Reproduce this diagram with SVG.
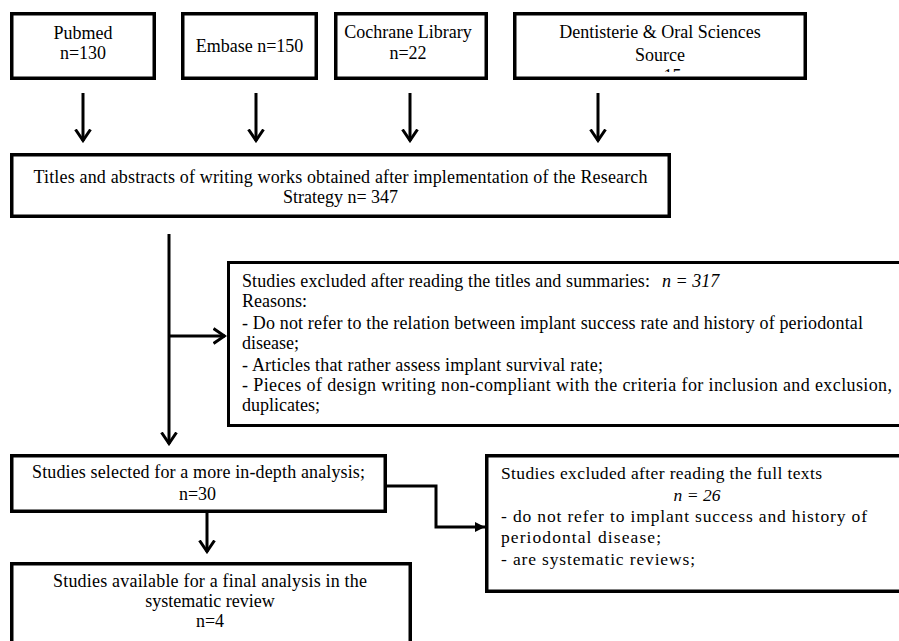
<svg xmlns="http://www.w3.org/2000/svg" width="899" height="641" viewBox="0 0 899 641">
<style>
.box{fill:#fff;stroke:#000;stroke-width:3.5}
.thin{stroke-width:3}
text{font-family:'Liberation Serif','DejaVu Serif',serif;fill:#000}
.t{font-size:18px}
.c{text-anchor:middle}
.i{font-style:italic}
.b2{font-size:17.5px}
.ln{fill:none;stroke:#000;stroke-width:3}
</style>
<defs>
<marker id="open" viewBox="0 0 14 18" markerWidth="14" markerHeight="18" refX="12.5" refY="9" markerUnits="userSpaceOnUse" orient="auto">
<path d="M1,1.5 L12,9 L1,16.5" fill="none" stroke="#000" stroke-width="3"/>
</marker>
<marker id="solid" viewBox="0 0 10 10" markerWidth="11" markerHeight="10" refX="10" refY="5" markerUnits="userSpaceOnUse" orient="auto">
<path d="M0,0 L10,5 L0,10 z" fill="#000"/>
</marker>
<clipPath id="clipD"><rect x="516" y="15" width="288" height="57"/></clipPath>
</defs>

<g font-family="Liberation Serif, serif">
<g id="pubmed">
<rect class="box" x="11.75" y="13.75" width="142.5" height="64.5"/>
<text class="t c" x="83" y="39">Pubmed</text>
<text class="t c" x="83" y="59">n=130</text>
</g>
<g id="embase">
<rect class="box" x="182.75" y="13.75" width="133.5" height="64.5"/>
<text class="t c" x="249.5" y="52">Embase n=150</text>
</g>
<g id="cochrane">
<rect class="box" x="335.75" y="13.75" width="150.5" height="64.5"/>
<text class="t c" x="408" y="38">Cochrane Library</text>
<text class="t c" x="408" y="59">n=22</text>
</g>
<g id="dentisterie">
<rect class="box" x="514.75" y="13.75" width="290.5" height="64.5"/>
<g clip-path="url(#clipD)">
<text class="t c" x="660" y="38">Dentisterie &amp; Oral Sciences</text>
<text class="t c" x="660" y="61">Source</text>
<text class="t c" x="663" y="82">n=15</text>
</g>
</g>
<g id="titles">
<rect class="box" x="11.75" y="154.75" width="657.5" height="61.5"/>
<text class="t c" x="340.5" y="183" textLength="614" lengthAdjust="spacing">Titles and abstracts of writing works obtained after implementation of the Research</text>
<text class="t c" x="340.5" y="203">Strategy n= 347</text>
</g>
<g id="excluded1">
<rect class="box thin" x="228.5" y="262.5" width="700" height="163"/>
<text class="t" x="242" y="287" textLength="408" lengthAdjust="spacing">Studies excluded after reading the titles and summaries:</text>
<text class="t i" x="662" y="287">n = 317</text>
<text class="t" x="242" y="307">Reasons:</text>
<text class="t" x="242" y="329" textLength="621" lengthAdjust="spacing">- Do not refer to the relation between implant success rate and history of periodontal</text>
<text class="t" x="242" y="349">disease;</text>
<text class="t" x="242" y="371" textLength="361" lengthAdjust="spacing">- Articles that rather assess implant survival rate;</text>
<text class="t" x="242" y="391" textLength="650" lengthAdjust="spacing">- Pieces of design writing non-compliant with the criteria for inclusion and exclusion,</text>
<text class="t" x="242" y="411">duplicates;</text>
</g>
<g id="selected">
<rect class="box" x="11.75" y="455.75" width="373.5" height="55.5"/>
<text class="t c" x="198.5" y="478" textLength="333" lengthAdjust="spacing">Studies selected for a more in-depth analysis;</text>
<text class="t c" x="197.5" y="500">n=30</text>
</g>
<g id="final">
<rect class="box" x="11.75" y="563.75" width="398.5" height="100"/>
<text class="t c" x="210" y="587" textLength="314" lengthAdjust="spacing">Studies available for a final analysis in the</text>
<text class="t c" x="210" y="607">systematic review</text>
<text class="t c" x="210" y="627">n=4</text>
</g>
<g id="excluded2">
<rect class="box" x="486.75" y="455.75" width="450" height="135.5"/>
<text class="b2" x="501" y="479" textLength="321" lengthAdjust="spacing">Studies excluded after reading the full texts</text>
<text class="b2 i c" x="697" y="501">n = 26</text>
<text class="b2" x="501" y="522" textLength="366" lengthAdjust="spacing">- do not refer to implant success and history of</text>
<text class="b2" x="501" y="543" textLength="160" lengthAdjust="spacing">periodontal disease;</text>
<text class="b2" x="501" y="565" textLength="194" lengthAdjust="spacing">- are systematic reviews;</text>
</g>
</g>

<g id="connectors">
<path class="ln" d="M83,93 V141" marker-end="url(#open)"/>
<path class="ln" d="M256,93 V141" marker-end="url(#open)"/>
<path class="ln" d="M410,93 V141" marker-end="url(#open)"/>
<path class="ln" d="M598,93 V141" marker-end="url(#open)"/>
<path class="ln" d="M169,234 V444" marker-end="url(#open)"/>
<path class="ln" d="M169,336 H225" marker-end="url(#open)"/>
<path class="ln" d="M207,513 V552" marker-end="url(#open)"/>
<path class="ln" d="M387,486 H436 V527 H485" marker-end="url(#solid)"/>
</g>
</svg>
